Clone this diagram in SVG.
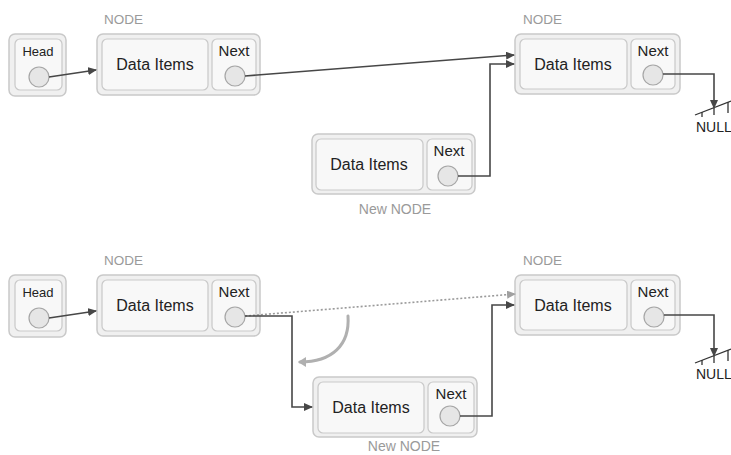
<svg xmlns="http://www.w3.org/2000/svg" width="731" height="455" viewBox="0 0 731 455">
<style>
.outer{fill:#f0f0f0;stroke:#c9c9c9;stroke-width:1.5}
.inner{fill:#f8f8f8;stroke:#c9c9c9;stroke-width:1.2}
.dot{fill:#e6e6e6;stroke:#a6a6a6;stroke-width:1.2}
.t{font-family:"Liberation Sans",Arial,sans-serif;fill:#222;text-anchor:middle}
.data{font-size:16px}
.nx{font-size:15px}
.hd{font-size:13px}
.lbl{font-family:"Liberation Sans",Arial,sans-serif;font-size:13.5px;fill:#9a9a9a}
.lblc{text-anchor:middle;font-size:14px}
.c{fill:none;stroke:#474747;stroke-width:1.6}
.dotted{fill:none;stroke:#9a9a9a;stroke-width:1.6;stroke-dasharray:2 2}
.curve{fill:none;stroke:#b0b0b0;stroke-width:3;stroke-linecap:round}
.null{fill:none;stroke:#333;stroke-width:1.3}
.nulltxt{font-family:"Liberation Sans",Arial,sans-serif;font-size:14px;fill:#222}
</style>
<defs>
<marker id="ah" markerWidth="9" markerHeight="8" refX="8" refY="4" orient="auto" markerUnits="userSpaceOnUse">
<path d="M0,0 L9,4 L0,8 z" fill="#474747"/>
</marker>
<marker id="ahg" markerWidth="9" markerHeight="8" refX="8" refY="4" orient="auto" markerUnits="userSpaceOnUse">
<path d="M0,0 L9,4 L0,8 z" fill="#a0a0a0"/>
</marker>
<marker id="ahc" markerWidth="10" markerHeight="10" refX="6" refY="5" orient="auto" markerUnits="userSpaceOnUse">
<path d="M0,0 L8,5 L0,10 z" fill="#b0b0b0"/>
</marker>
</defs>

<!-- ===== TOP ===== -->
<g id="head1">
<rect class="outer" x="9" y="34" width="57" height="62" rx="6"/>
<rect class="inner" x="15" y="39" width="47" height="51" rx="5"/>
<text class="t hd" x="38" y="56">Head</text>
<circle class="dot" cx="39" cy="77" r="10"/>
</g>
<g id="node1">
<text class="lbl" x="104" y="24">NODE</text>
<rect class="outer" x="97" y="34" width="163" height="61" rx="6"/>
<rect class="inner" x="102" y="39" width="106" height="51" rx="5"/>
<rect class="inner" x="212" y="39" width="44" height="51" rx="5"/>
<text class="t data" x="155" y="70">Data Items</text>
<text class="t nx" x="234" y="56">Next</text>
<circle class="dot" cx="235" cy="76" r="10"/>
</g>
<g id="node3">
<text class="lbl" x="523" y="24">NODE</text>
<rect class="outer" x="515" y="34" width="165" height="60" rx="6"/>
<rect class="inner" x="520" y="39" width="107" height="50" rx="5"/>
<rect class="inner" x="631" y="39" width="44" height="50" rx="5"/>
<text class="t data" x="573" y="70">Data Items</text>
<text class="t nx" x="653" y="56">Next</text>
<circle class="dot" cx="653" cy="75" r="10"/>
</g>
<g id="newnode1">
<rect class="outer" x="312" y="134" width="163" height="60" rx="6"/>
<rect class="inner" x="316" y="139" width="107" height="51" rx="5"/>
<rect class="inner" x="427" y="139" width="45" height="51" rx="5"/>
<text class="t data" x="369" y="170">Data Items</text>
<text class="t nx" x="449" y="156">Next</text>
<circle class="dot" cx="448" cy="176" r="10"/>
<text class="lbl lblc" x="395" y="214">New NODE</text>
</g>
<g id="null1">
<line class="null" x1="695" y1="115" x2="731" y2="101"/>
<line class="null" x1="702" y1="112" x2="702" y2="117"/>
<line class="null" x1="714" y1="108" x2="714" y2="115"/>
<line class="null" x1="728" y1="102" x2="728" y2="113"/>
<text class="nulltxt" x="696" y="132">NULL</text>
</g>

<!-- ===== BOTTOM ===== -->
<g id="head2">
<rect class="outer" x="9" y="275" width="57" height="62" rx="6"/>
<rect class="inner" x="15" y="280" width="47" height="51" rx="5"/>
<text class="t hd" x="38" y="297">Head</text>
<circle class="dot" cx="39" cy="318" r="10"/>
</g>
<g id="node1b">
<text class="lbl" x="104" y="265">NODE</text>
<rect class="outer" x="97" y="275" width="163" height="61" rx="6"/>
<rect class="inner" x="102" y="280" width="106" height="51" rx="5"/>
<rect class="inner" x="212" y="280" width="44" height="51" rx="5"/>
<text class="t data" x="155" y="311">Data Items</text>
<text class="t nx" x="234" y="297">Next</text>
<circle class="dot" cx="235" cy="317" r="10"/>
</g>
<g id="node3b">
<text class="lbl" x="523" y="265">NODE</text>
<rect class="outer" x="515" y="275" width="165" height="60" rx="6"/>
<rect class="inner" x="520" y="280" width="107" height="50" rx="5"/>
<rect class="inner" x="631" y="280" width="44" height="50" rx="5"/>
<text class="t data" x="573" y="311">Data Items</text>
<text class="t nx" x="653" y="297">Next</text>
<circle class="dot" cx="654" cy="317" r="10"/>
</g>
<g id="newnode2">
<rect class="outer" x="313" y="377" width="164" height="60" rx="6"/>
<rect class="inner" x="318" y="382" width="106" height="51" rx="5"/>
<rect class="inner" x="428" y="382" width="46" height="51" rx="5"/>
<text class="t data" x="371" y="413">Data Items</text>
<text class="t nx" x="451" y="399">Next</text>
<circle class="dot" cx="450" cy="416" r="10"/>
<text class="lbl lblc" x="404" y="451">New NODE</text>
</g>
<g id="null2">
<line class="null" x1="695" y1="363" x2="731" y2="349"/>
<line class="null" x1="702" y1="360" x2="702" y2="365"/>
<line class="null" x1="714" y1="356" x2="714" y2="363"/>
<line class="null" x1="728" y1="350" x2="728" y2="361"/>
<text class="nulltxt" x="696" y="379">NULL</text>
</g>

<g id="connectors">
<line class="c" x1="49" y1="77" x2="96" y2="70" marker-end="url(#ah)"/>
<line class="c" x1="245" y1="76" x2="514" y2="55" marker-end="url(#ah)"/>
<path class="c" d="M458,176 H490 V64 H514" marker-end="url(#ah)"/>
<path class="c" d="M663,74 H714 V108" marker-end="url(#ah)"/>

<line class="c" x1="49" y1="318" x2="96" y2="311" marker-end="url(#ah)"/>
<line class="dotted" x1="245" y1="316" x2="515" y2="294" marker-end="url(#ahg)"/>
<path class="c" d="M245,316 H292 V407 H312" marker-end="url(#ah)"/>
<path class="c" d="M460,416 H492 V305 H514" marker-end="url(#ah)"/>
<path class="c" d="M664,315 H714 V356" marker-end="url(#ah)"/>
<path class="curve" d="M348,316 C350,345 332,362 300,362" marker-end="url(#ahc)"/>
</g>
</svg>
